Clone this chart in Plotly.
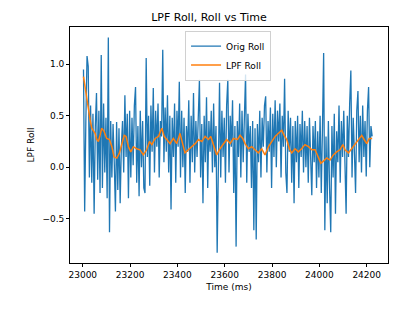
import plotly.graph_objects as go

t0 = 23003
dt = 5
orig_roll = [
    0.95, -0.43, 0.45, 1.08, 0.98, -0.10, 0.60, -0.15, 0.52, -0.45,
    0.40, 0.72, -0.12, 0.55, -0.25, 1.09, -0.20, 0.62, -0.05, 0.48,
    -0.30, 1.26, -0.63, 0.45, -0.10, 0.42, 0.05, -0.43, 0.44, -0.22,
    0.38, -0.35, 0.20, 0.45, -0.05, 0.70, 0.10, 0.52, -0.30, 0.55,
    -0.10, 0.48, 0.02, 0.60, 0.78, -0.15, 0.40, -0.28, 0.55, 0.00,
    0.45, -0.20, -0.25, 1.06, 0.10, 0.50, -0.18, 0.60, 0.15, 0.77,
    -0.05, 0.55, 0.20, 0.62, -0.10, 0.45, 0.30, 1.14, 0.05, 0.58,
    0.15, 0.70, -0.05, 0.50, -0.41, 0.48, 0.10, 0.62, -0.15, 0.55,
    0.20, 0.83, -0.10, 0.55, 0.00, 0.48, -0.25, 0.40, 0.15, 0.65,
    -0.15, 0.50, 0.05, 0.72, -0.05, 0.45, 0.10, 0.60, 0.85, -0.10,
    0.42, -0.35, 0.50, 0.05, 0.68, -0.20, 0.45, 0.15, 0.55, -0.05,
    0.62, 0.00, 0.40, -0.83, 0.35, 0.82, -0.10, 0.55, 0.10, 0.48,
    -0.15, 0.60, 0.85, -0.05, 0.50, 0.20, 0.65, -0.25, 0.40, -0.77,
    0.45, 0.10, 0.62, -0.10, 0.55, 0.05, 0.48, 0.90, -0.15, 0.52,
    0.15, 0.40, -0.20, 0.45, -0.61, 0.38, -0.70, 0.42, 0.05, 0.55,
    -0.10, 0.48, 0.20, 0.60, 0.69, -0.05, 0.45, 0.15, 0.58, -0.20,
    0.52, 0.10, 0.65, 0.00, 0.55, 0.25, 0.62, -0.10, 0.50, 0.20,
    0.86, -0.05, -0.25, 0.55, 0.15, 0.48, -0.15, 0.40, -0.35, 0.45,
    0.05, 0.50, -0.20, 0.42, 0.10, 0.55, -0.05, 0.45, 0.00, 0.40,
    -0.15, 0.48, 0.10, -0.27, 0.40, 0.05, 0.45, -0.20, 0.35, -0.10,
    0.50, -0.25, 0.38, 1.11, -0.61, 0.30, -0.35, 0.45, -0.20, -0.63,
    0.40, -0.10, 0.52, -0.45, 0.35, 0.05, 0.60, -0.15, 0.45, 0.10,
    0.55, -0.05, -0.45, 0.50, 0.10, 0.62, 0.94, -0.10, 0.48, 0.15,
    -0.25, 0.55, 0.74, 0.05, 0.50, -0.05, 0.60, 0.10, 0.45, -0.09,
    0.55, 0.78, 0.00, 0.40, 0.30,
]
orig_time = [t0 + dt * i for i in range(len(orig_roll))]

lpf_time = [
    23003, 23010, 23017, 23024, 23031, 23038, 23052, 23059, 23066, 23073,
    23080, 23090, 23101, 23113, 23123, 23132, 23144, 23155, 23165, 23175,
    23183, 23193, 23203, 23214, 23228, 23242, 23256, 23270, 23282, 23292,
    23306, 23320, 23334, 23344, 23355, 23369, 23383, 23397, 23411, 23423,
    23432, 23446, 23461, 23475, 23489, 23503, 23517, 23531, 23541, 23552,
    23566, 23580, 23594, 23608, 23623, 23637, 23654, 23665, 23676, 23686,
    23700, 23714, 23728, 23742, 23756, 23770, 23785, 23799, 23813, 23827,
    23841, 23851, 23862, 23873, 23883, 23897, 23911, 23925, 23939, 23954,
    23968, 23982, 23996, 24006, 24017, 24031, 24045, 24059, 24073, 24087,
    24099, 24108, 24123, 24137, 24151, 24165, 24179, 24189, 24200, 24211,
    24223,
]
lpf_roll = [
    0.88, 0.77, 0.65, 0.56, 0.46, 0.38, 0.33, 0.27, 0.25, 0.31,
    0.38, 0.35, 0.28, 0.27, 0.20, 0.10, 0.09, 0.14, 0.23, 0.31,
    0.30, 0.20, 0.15, 0.20, 0.18, 0.17, 0.12, 0.17, 0.25, 0.22,
    0.28, 0.30, 0.38, 0.30, 0.27, 0.23, 0.28, 0.23, 0.33, 0.23,
    0.14, 0.17, 0.20, 0.23, 0.27, 0.25, 0.30, 0.27, 0.30, 0.22,
    0.12, 0.18, 0.23, 0.27, 0.23, 0.28, 0.27, 0.31, 0.28, 0.23,
    0.18, 0.20, 0.17, 0.14, 0.18, 0.12, 0.20, 0.25, 0.30, 0.33,
    0.36, 0.31, 0.27, 0.18, 0.14, 0.18, 0.15, 0.18, 0.22, 0.20,
    0.17, 0.17, 0.10, 0.04, 0.06, 0.09, 0.07, 0.12, 0.15, 0.17,
    0.22, 0.17, 0.14, 0.18, 0.23, 0.27, 0.31, 0.27, 0.23, 0.28,
    0.28,
]

x_ticks = [23000, 23200, 23400, 23600, 23800, 24000, 24200]
y_ticks = [-0.5, 0.0, 0.5, 1.0]

fig = go.Figure()
fig.add_trace(go.Scatter(x=orig_time, y=orig_roll, mode="lines", name="Orig Roll",
                         line=dict(color="#1f77b4", width=1.3)))
fig.add_trace(go.Scatter(x=lpf_time, y=lpf_roll, mode="lines", name="LPF Roll",
                         line=dict(color="#ff7f0e", width=1.5)))

axis_common = dict(showgrid=False, zeroline=False, showline=True, linecolor="black",
                   linewidth=0.8, mirror=True, ticks="outside", ticklen=3,
                   tickcolor="black", tickwidth=0.8,
                   tickfont=dict(family="DejaVu Sans", size=9, color="black"))

fig.update_layout(
    width=418, height=322,
    margin=dict(l=70, r=30, t=27, b=59),
    paper_bgcolor="white", plot_bgcolor="white",
    font=dict(family="DejaVu Sans", size=9, color="black"),
    title=dict(text="LPF Roll, Roll vs Time", x=0.5, xanchor="center",
               y=1 - 17 / 322, yanchor="middle",
               font=dict(family="DejaVu Sans", size=11, color="black")),
    showlegend=True,
    legend=dict(x=0.497, y=0.985, xanchor="center", yanchor="top",
                bgcolor="rgba(255,255,255,0.8)", bordercolor="#d0d0d0", borderwidth=1,
                font=dict(family="DejaVu Sans", size=9, color="black"),
                tracegroupgap=0, itemwidth=30),
    xaxis=dict(range=[22946, 24290], tickvals=x_ticks,
               ticktext=[str(v) for v in x_ticks],
               title=dict(text="Time (ms)", standoff=4,
                          font=dict(family="DejaVu Sans", size=9, color="black")),
               **axis_common),
    yaxis=dict(range=[-0.929, 1.362], tickvals=y_ticks,
               ticktext=["\u22120.5", "0.0", "0.5", "1.0"],
               title=dict(text="LPF Roll", standoff=6,
                          font=dict(family="DejaVu Sans", size=9, color="black")),
               **axis_common),
)

fig.write_html("out.html")
